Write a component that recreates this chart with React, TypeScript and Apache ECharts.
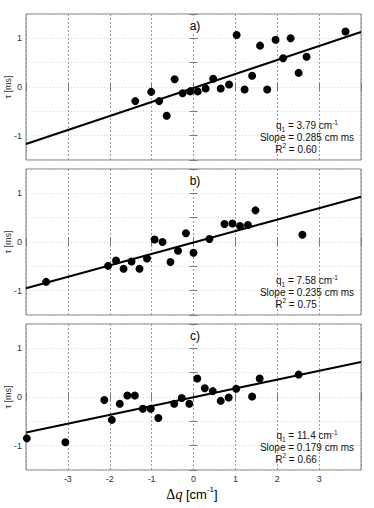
import React, { useEffect, useRef } from 'react';
import * as echarts from 'echarts';

const panelLabels = ['a)', 'b)', 'c)'];
const q1Values = ['3.79', '7.58', '11.4'];
const slopeValues = ['0.285', '0.235', '0.179'];
const r2Values = ['0.60', '0.75', '0.66'];

const pointsA: number[][] = [
  [-1.39, -0.29], [-1.01, -0.10], [-0.82, -0.29], [-0.64, -0.59], [-0.45, 0.16],
  [-0.26, -0.13], [-0.08, -0.09], [0.10, -0.09], [0.29, -0.03], [0.47, 0.17],
  [0.65, -0.03], [0.85, 0.05], [1.03, 1.07], [1.22, -0.05], [1.40, 0.23],
  [1.59, 0.85], [1.76, -0.05], [1.96, 0.97], [2.14, 0.59], [2.32, 1.0],
  [2.51, 0.29], [2.70, 0.62], [3.63, 1.14],
];
const pointsB: number[][] = [
  [-3.52, -0.82], [-2.04, -0.49], [-1.85, -0.38], [-1.67, -0.55], [-1.48, -0.40],
  [-1.29, -0.55], [-1.11, -0.34], [-0.93, 0.05], [-0.74, 0.0], [-0.55, -0.41],
  [-0.37, -0.18], [-0.18, 0.18], [0.0, -0.22], [0.38, 0.06], [0.74, 0.37],
  [0.93, 0.38], [1.11, 0.33], [1.30, 0.35], [1.48, 0.65], [2.60, 0.15],
];
const pointsC: number[][] = [
  [-3.98, -0.85], [-3.06, -0.93], [-2.13, -0.06], [-1.95, -0.47], [-1.76, -0.14],
  [-1.58, 0.03], [-1.40, 0.03], [-1.21, -0.24], [-1.02, -0.24], [-0.84, -0.43],
  [-0.46, -0.14], [-0.28, -0.02], [-0.10, -0.14], [0.09, 0.38], [0.27, 0.18],
  [0.46, 0.12], [0.65, -0.08], [0.84, -0.01], [1.02, 0.17], [1.40, 0.01],
  [1.58, 0.38], [2.51, 0.46],
];
const fitA: number[][] = [[-4, -1.17], [4, 1.13]];
const fitB: number[][] = [[-4, -0.95], [4, 0.93]];
const fitC: number[][] = [[-4, -0.73], [4, 0.72]];

const allPoints = [pointsA, pointsB, pointsC];
const allFits = [fitA, fitB, fitC];

const X_MIN = -4, X_MAX = 4, X_INT = 1;
const Y_MIN = -1.5, Y_MAX = 1.5, Y_INT = 0.5;

export default function App() {
  const ref = useRef<HTMLDivElement>(null);
  useEffect(() => {
    if (!ref.current) return;
    const chart = echarts.init(ref.current, undefined, { renderer: 'svg' });
    const LEFT = 26, WIDTH = 335, HEIGHT = 146;
    const tops = [14, 169, 324];
    const border = '#7a7a7a';
    const font = 'Liberation Sans, Arial, sans-serif';

    const grids: any[] = [];
    const xAxes: any[] = [];
    const yAxes: any[] = [];
    const series: any[] = [];
    const graphics: any[] = [];

    tops.forEach((top, i) => {
      grids.push({ left: LEFT, top, width: WIDTH, height: HEIGHT, show: true, borderColor: border, borderWidth: 1, backgroundColor: '#fff' });
      const isLast = i === tops.length - 1;
      xAxes.push({
        type: 'value', gridIndex: i, min: X_MIN, max: X_MAX, interval: X_INT, position: 'bottom',
        axisLine: { show: false },
        axisTick: { show: true, inside: true, length: 4, lineStyle: { color: border } },
        axisLabel: {
          show: isLast, fontSize: 9, color: '#333', margin: 4, fontFamily: font,
          formatter: (v: number) => (v === X_MIN || v === X_MAX ? '' : String(v)),
        },
        splitLine: { show: true, lineStyle: { color: '#9a9a9a', type: [2, 2], width: 1 } },
      });
      xAxes.push({
        type: 'value', gridIndex: i, min: X_MIN, max: X_MAX, interval: X_INT, position: 'top',
        axisLine: { show: false },
        axisTick: { show: true, inside: true, length: 4, lineStyle: { color: border } },
        axisLabel: { show: false }, splitLine: { show: false },
      });
      yAxes.push({
        type: 'value', gridIndex: i, min: Y_MIN, max: Y_MAX, interval: Y_INT, position: 'left',
        axisLine: { show: false },
        axisTick: { show: true, inside: true, length: 4, lineStyle: { color: border } },
        axisLabel: {
          fontSize: 9, color: '#333', margin: 4, fontFamily: font,
          formatter: (v: number) => (Number.isInteger(v) && Math.abs(v) < 1.5 ? String(v) : ''),
        },
        splitLine: { show: true, lineStyle: { color: '#d8d8d8', type: [1, 2], width: 1 } },
      });
      yAxes.push({
        type: 'value', gridIndex: i, min: Y_MIN, max: Y_MAX, interval: Y_INT, position: 'right',
        axisLine: { show: false },
        axisTick: { show: true, inside: true, length: 4, lineStyle: { color: border } },
        axisLabel: { show: false }, splitLine: { show: false },
      });
      series.push({
        type: 'line', xAxisIndex: 2 * i, yAxisIndex: 2 * i, data: allFits[i],
        showSymbol: false, symbol: 'none', lineStyle: { color: '#000', width: 2 }, z: 3,
      });
      series.push({
        type: 'scatter', xAxisIndex: 2 * i, yAxisIndex: 2 * i, data: allPoints[i],
        symbol: 'circle', symbolSize: 8, itemStyle: { color: '#000', opacity: 1 }, z: 4,
      });

      graphics.push({
        type: 'text', x: 195, y: top + 11.5, z: 10,
        style: {
          text: panelLabels[i], fontSize: 12, fontFamily: font, fill: '#000', align: 'center', verticalAlign: 'middle',
          backgroundColor: '#fff', padding: [1, 1, 1, 1],
        },
      });
      graphics.push({
        type: 'text', x: 8, y: top + HEIGHT / 2, rotation: Math.PI / 2, z: 10,
        style: { text: 'τ [ms]', fontSize: 9, fontFamily: font, fill: '#333', align: 'center', verticalAlign: 'middle' },
      });
      const rich = {
        n: { fontSize: 10, fontFamily: font, fill: '#111', lineHeight: 14, verticalAlign: 'middle' },
        sub: { fontSize: 6.5, fontFamily: font, fill: '#111', lineHeight: 6, verticalAlign: 'bottom' },
        sup: { fontSize: 6.5, fontFamily: font, fill: '#111', lineHeight: 6, verticalAlign: 'top' },
      };
      graphics.push({
        type: 'text', x: 307, y: top + 111.5, z: 10,
        style: { text: `{n|q}{sub|1}{n| = ${q1Values[i]} cm}{sup|-1}`, rich, align: 'center', verticalAlign: 'middle' },
      });
      graphics.push({
        type: 'text', x: 307, y: top + 123, z: 10,
        style: { text: `{n|Slope = ${slopeValues[i]} cm ms}`, rich, align: 'center', verticalAlign: 'middle' },
      });
      graphics.push({
        type: 'text', x: 296, y: top + 135, z: 10,
        style: { text: `{n|R}{sup|2}{n| = ${r2Values[i]}}`, rich, align: 'center', verticalAlign: 'middle' },
      });
    });

    graphics.push({
      type: 'text', x: 192, y: 494, z: 10,
      style: {
        text: '{d|Δ}{q|q}{n| [cm}{sup|-1}{n|]}',
        align: 'center', verticalAlign: 'middle',
        rich: {
          d: { fontSize: 14, fontFamily: 'Liberation Serif, DejaVu Serif, serif', fill: '#000', lineHeight: 18, verticalAlign: 'middle' },
          q: { fontSize: 14, fontFamily: 'Liberation Serif, DejaVu Serif, serif', fontStyle: 'italic', fill: '#000', lineHeight: 18, verticalAlign: 'middle' },
          n: { fontSize: 13, fontFamily: font, fill: '#000', lineHeight: 18, verticalAlign: 'middle' },
          sup: { fontSize: 8, fontFamily: font, fill: '#000', lineHeight: 8, verticalAlign: 'top' },
        },
      },
    });

    chart.setOption({
      animation: false,
      backgroundColor: '#fff',
      grid: grids,
      xAxis: xAxes,
      yAxis: yAxes,
      series,
      graphic: graphics,
    });
    return () => chart.dispose();
  }, []);
  return <div ref={ref} style={{ position: 'absolute', left: 0, top: 0, width: 374, height: 508 }} />;
}
